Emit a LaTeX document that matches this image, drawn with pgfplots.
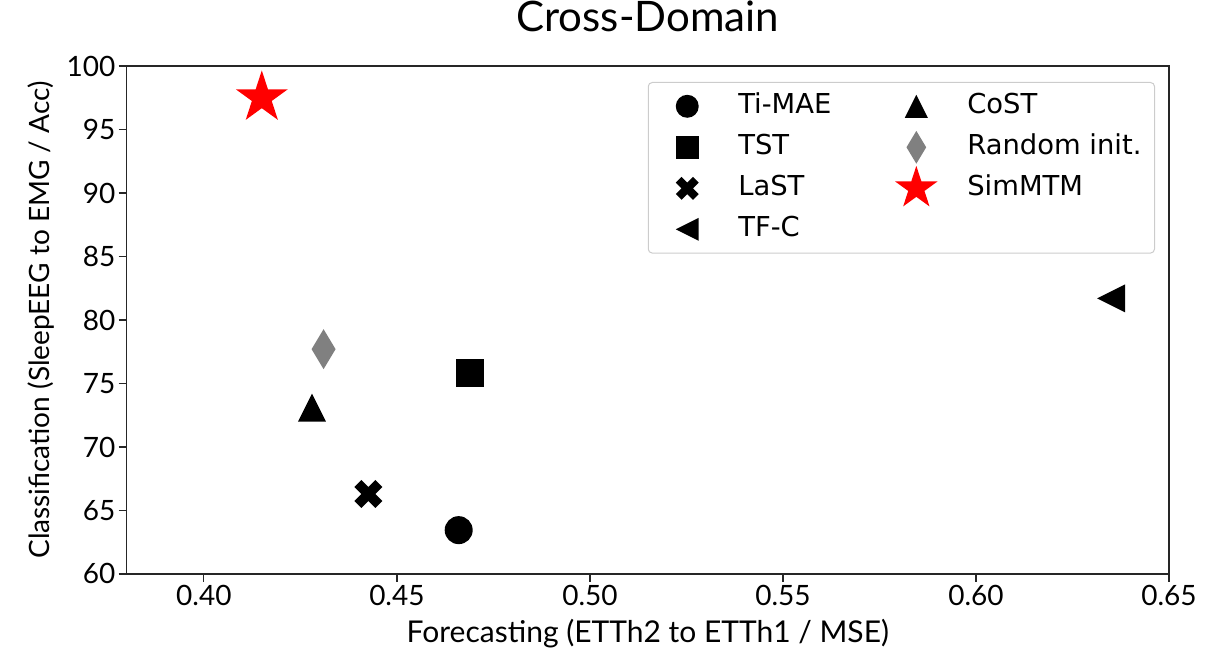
\documentclass[border=0pt]{standalone}
\usepackage{fontspec}
\setmainfont{Lato}
\newfontfamily\legfont{DejaVu Sans}
\usepackage{pgfplots}
\pgfplotsset{compat=1.18}

\pgfdeclareplotmark{mcirc}{\pgfscope\pgfsetcornersarced{\pgfpointorigin}\pgfpathcircle{\pgfpointorigin}{\pgfplotmarksize}\pgfusepathqfill\endpgfscope}
\pgfdeclareplotmark{msq}{\pgfscope\pgfsetcornersarced{\pgfpointorigin}\pgfpathrectangle{\pgfqpoint{-\pgfplotmarksize}{-\pgfplotmarksize}}{\pgfqpoint{2\pgfplotmarksize}{2\pgfplotmarksize}}\pgfusepathqfill\endpgfscope}
\pgfdeclareplotmark{mtri}{\pgfscope\pgfsetcornersarced{\pgfpointorigin}%
 \pgfpathmoveto{\pgfqpoint{0pt}{\pgfplotmarksize}}%
 \pgfpathlineto{\pgfqpoint{-\pgfplotmarksize}{-\pgfplotmarksize}}%
 \pgfpathlineto{\pgfqpoint{\pgfplotmarksize}{-\pgfplotmarksize}}%
 \pgfpathclose\pgfusepathqfill\endpgfscope}
\pgfdeclareplotmark{mltri}{\pgfscope\pgfsetcornersarced{\pgfpointorigin}%
 \pgfpathmoveto{\pgfqpoint{-\pgfplotmarksize}{0pt}}%
 \pgfpathlineto{\pgfqpoint{\pgfplotmarksize}{\pgfplotmarksize}}%
 \pgfpathlineto{\pgfqpoint{\pgfplotmarksize}{-\pgfplotmarksize}}%
 \pgfpathclose\pgfusepathqfill\endpgfscope}
\pgfdeclareplotmark{mdia}{\pgfscope\pgfsetcornersarced{\pgfpointorigin}%
 \pgfpathmoveto{\pgfqpoint{0pt}{\pgfplotmarksize}}%
 \pgfpathlineto{\pgfqpoint{0.6\pgfplotmarksize}{0pt}}%
 \pgfpathlineto{\pgfqpoint{0pt}{-\pgfplotmarksize}}%
 \pgfpathlineto{\pgfqpoint{-0.6\pgfplotmarksize}{0pt}}%
 \pgfpathclose\pgfusepathqfill\endpgfscope}
\pgfdeclareplotmark{mx}{\pgfscope\pgfsetcornersarced{\pgfpointorigin}\pgftransformrotate{45}%
 \pgfpathmoveto{\pgfqpoint{-0.3333\pgfplotmarksize}{-\pgfplotmarksize}}%
 \pgfpathlineto{\pgfqpoint{-0.3333\pgfplotmarksize}{-0.3333\pgfplotmarksize}}%
 \pgfpathlineto{\pgfqpoint{-\pgfplotmarksize}{-0.3333\pgfplotmarksize}}%
 \pgfpathlineto{\pgfqpoint{-\pgfplotmarksize}{0.3333\pgfplotmarksize}}%
 \pgfpathlineto{\pgfqpoint{-0.3333\pgfplotmarksize}{0.3333\pgfplotmarksize}}%
 \pgfpathlineto{\pgfqpoint{-0.3333\pgfplotmarksize}{\pgfplotmarksize}}%
 \pgfpathlineto{\pgfqpoint{0.3333\pgfplotmarksize}{\pgfplotmarksize}}%
 \pgfpathlineto{\pgfqpoint{0.3333\pgfplotmarksize}{0.3333\pgfplotmarksize}}%
 \pgfpathlineto{\pgfqpoint{\pgfplotmarksize}{0.3333\pgfplotmarksize}}%
 \pgfpathlineto{\pgfqpoint{\pgfplotmarksize}{-0.3333\pgfplotmarksize}}%
 \pgfpathlineto{\pgfqpoint{0.3333\pgfplotmarksize}{-0.3333\pgfplotmarksize}}%
 \pgfpathlineto{\pgfqpoint{0.3333\pgfplotmarksize}{-\pgfplotmarksize}}%
 \pgfpathclose\pgfusepathqfill\endpgfscope}
\pgfdeclareplotmark{mstar}{\pgfscope\pgfsetcornersarced{\pgfpointorigin}%
 \pgfpathmoveto{\pgfpointpolar{90}{\pgfplotmarksize}}%
 \pgfpathlineto{\pgfpointpolar{126}{0.382\pgfplotmarksize}}%
 \pgfpathlineto{\pgfpointpolar{162}{\pgfplotmarksize}}%
 \pgfpathlineto{\pgfpointpolar{198}{0.382\pgfplotmarksize}}%
 \pgfpathlineto{\pgfpointpolar{234}{\pgfplotmarksize}}%
 \pgfpathlineto{\pgfpointpolar{270}{0.382\pgfplotmarksize}}%
 \pgfpathlineto{\pgfpointpolar{306}{\pgfplotmarksize}}%
 \pgfpathlineto{\pgfpointpolar{342}{0.382\pgfplotmarksize}}%
 \pgfpathlineto{\pgfpointpolar{18}{\pgfplotmarksize}}%
 \pgfpathlineto{\pgfpointpolar{54}{0.382\pgfplotmarksize}}%
 \pgfpathclose\pgfusepathqfill\endpgfscope}

\pgfplotsset{pt/.style={only marks,
  legend image code/.code={\path[draw=none,fill=none] (0bp,-6.5bp) rectangle (26bp,6.5bp);
    \draw[overlay,##1,every mark/.append style={scale=0.82}] plot coordinates {(13bp,0bp)};}}}

\begin{document}
\begin{tikzpicture}
\begin{axis}[
  name=ax,
  scale only axis, width=521.2bp, height=254bp,
  xmin=0.38, xmax=0.65, ymin=60, ymax=100,
  xtick={0.40,0.45,0.50,0.55,0.60,0.65},
  ytick={60,65,70,75,80,85,90,95,100},
  tick pos=left, tick align=outside, major tick length=4bp,
  xticklabel style={/pgf/number format/fixed, /pgf/number format/fixed zerofill, /pgf/number format/precision=2},
  /pgf/number format/assume math mode=true,
  ticklabel style={font=\fontsize{14bp}{16bp}\selectfont, inner sep=1.5bp},
  label style={font=\fontsize{14bp}{16bp}\selectfont},
  axis line style={line width=0.6bp, black!85},
  tick style={line width=0.6bp, black!85},
  title={Cross-Domain},
  title style={font=\fontsize{21bp}{24bp}\selectfont, at={(axis description cs:0.5,1.0738)}, anchor=center},
  xlabel={Forecasting (ETTh2 to ETTh1 / MSE)},
  xlabel style={font=\fontsize{15bp}{17bp}\selectfont, at={(axis description cs:0.5,-0.118)}, anchor=center},
  ylabel={Classification (SleepEEG to EMG / Acc)},
  ylabel style={at={(axis description cs:-0.0825,0.5)}, anchor=center},
  legend columns=2, legend cell align=left,
  legend style={at={(axis description cs:1,1)}, anchor=north east, xshift=-7bp, yshift=-8bp,
    draw=black!20, line width=0.5bp, rounded corners=2bp,
    inner xsep=6.5bp, inner ysep=5.4bp, row sep=7.5bp,
    font=\legfont\fontsize{13.7bp}{16bp}\selectfont,
    nodes={inner sep=0pt, text height=10bp, text depth=3bp, anchor=west},
    /tikz/every odd column/.append style={column sep=12.5bp},
    /tikz/every even column/.append style={column sep=29.5bp}},
]
\addplot[pt, mark=mcirc, mark size=7bp, color=black] coordinates {(0.466,63.45)};
\addlegendentry{Ti-MAE}
\addplot[pt, mark=mtri, mark size=7bp, color=black] coordinates {(0.428,73.1)};
\addlegendentry{CoST}
\addplot[pt, mark=msq, mark size=7bp, color=black] coordinates {(0.469,75.8)};
\addlegendentry{TST}
\addplot[pt, mark=mdia, mark size=10bp, color=black!50] coordinates {(0.431,77.7)};
\addlegendentry{Random init.}
\addplot[pt, mark=mx, mark size=7.42bp, color=black] coordinates {(0.4426,66.3)};
\addlegendentry{LaST}
\addplot[pt, mark=mstar, mark size=13.67bp, color=red] coordinates {(0.415,97.5)};
\addlegendentry{SimMTM}
\addplot[pt, mark=mltri, mark size=7bp, color=black] coordinates {(0.635,81.7)};
\addlegendentry{TF-C}
\end{axis}
\pgfresetboundingbox
\path ([shift={(-63.35bp,-42bp)}]ax.south west) rectangle ([shift={(28bp,33bp)}]ax.north east);
\end{tikzpicture}
\end{document}
